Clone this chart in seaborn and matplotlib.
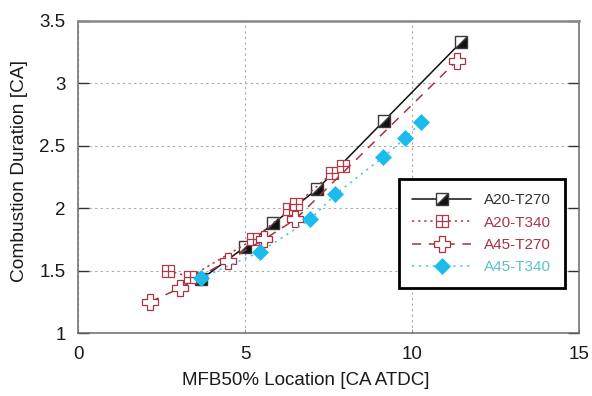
import numpy as np
import matplotlib
matplotlib.use("Agg")
import matplotlib.pyplot as plt
from matplotlib.path import Path
from matplotlib.markers import MarkerStyle
from matplotlib.transforms import Affine2D
import seaborn as sns

# MFB50% location [CA ATDC] and combustion duration [CA] for each case
a20_t270_x = [3.68, 5.00, 5.85, 7.15, 9.16, 11.47]
a20_t270_y = [1.43, 1.69, 1.88, 2.15, 2.70, 3.33]

a20_t340_x = [2.70, 3.35, 5.25, 6.33, 6.53, 7.60, 7.94]
a20_t340_y = [1.50, 1.45, 1.75, 1.99, 2.03, 2.28, 2.34]

a45_t270_x = [2.16, 3.05, 4.48, 5.57, 6.50, 11.34]
a45_t270_y = [1.25, 1.36, 1.58, 1.75, 1.91, 3.18]

a45_t340_x = [3.67, 5.45, 6.95, 7.70, 9.14, 9.79, 10.26]
a45_t340_y = [1.44, 1.65, 1.91, 2.11, 2.41, 2.56, 2.69]

labels = ["A20-T270", "A20-T340", "A45-T270", "A45-T340"]
x_ticks = [0, 5, 10, 15]
y_ticks = [1, 1.5, 2, 2.5, 3, 3.5]
y_tick_labels = ["1", "1.5", "2", "2.5", "3", "3.5"]

sns.set_theme(style="white")
plt.rcParams["font.family"] = ["Liberation Sans", "DejaVu Sans"]

fig = plt.figure(figsize=(5.92, 3.96), dpi=100)
ax = fig.add_axes([0.132, 0.159, 0.846, 0.788])

# square with an inner cross (grid-square marker)
grid_sq = Path(
    [(-1, -1), (1, -1), (1, 1), (-1, 1), (-1, -1),
     (0, -1), (0, 1), (-1, 0), (1, 0)],
    [Path.MOVETO, Path.LINETO, Path.LINETO, Path.LINETO, Path.CLOSEPOLY,
     Path.MOVETO, Path.LINETO, Path.MOVETO, Path.LINETO])
# square split along its diagonal: lower-right half filled
half_sq = MarkerStyle("D", fillstyle="right",
                      transform=Affine2D().rotate_deg(-45))

c_black = "#111111"
c_red1 = "#b23a48"
c_red2 = "#a83240"
c_cyan = "#1bbcec"
c_cyan_line = "#4cc4dc"

common = dict(estimator=None, sort=False, ax=ax)

sns.lineplot(x=a20_t270_x, y=a20_t270_y, color=c_black, linewidth=1.1,
             marker=half_sq, markersize=8.5, markerfacecolor=c_black,
             markerfacecoloralt="white", markeredgecolor="#3a3a3a",
             markeredgewidth=1.0, label=labels[0], **common)

sns.lineplot(x=a20_t340_x, y=a20_t340_y, color=c_red1, linewidth=1.1,
             linestyle=(0, (1.5, 2.5)), marker=grid_sq, markersize=9,
             markerfacecolor="white", markeredgecolor=c_red1,
             markeredgewidth=0.9, label=labels[1], **common)

sns.lineplot(x=a45_t270_x, y=a45_t270_y, color=c_red2, linewidth=1.1,
             linestyle=(0, (6, 5)), marker="P", markersize=11,
             markerfacecolor="white", markeredgecolor=c_red2,
             markeredgewidth=0.9, label=labels[2], **common)

sns.lineplot(x=a45_t340_x, y=a45_t340_y, color=c_cyan_line, linewidth=1.1,
             linestyle=(0, (1.5, 3)), marker="D", markersize=8.5,
             markerfacecolor=c_cyan, markeredgecolor=c_cyan,
             markeredgewidth=0.5, label=labels[3], **common)

ax.set_xlim(0, 15)
ax.set_ylim(1, 3.5)
ax.set_xticks(x_ticks)
ax.set_yticks(y_ticks)
ax.set_yticklabels(y_tick_labels)

ax.grid(True, color="#a8a8a8", linestyle=(0, (2, 3)), linewidth=0.8)
ax.set_axisbelow(True)

for side in ["left", "right", "top", "bottom"]:
    ax.spines[side].set_visible(True)
    ax.spines[side].set_color("#6a6a6a")
    ax.spines[side].set_linewidth(1.1)
ax.spines["top"].set_linewidth(1.8)
ax.spines["top"].set_color("#888888")

ax.tick_params(axis="y", which="both", direction="in", length=8, width=1.0,
               color="#333333", left=True, right=True, labelsize=13.5,
               labelcolor="#1a1a1a", pad=9)
ax.tick_params(axis="x", direction="in", length=3, width=0.8, color="#999999",
               bottom=True, labelsize=13.5, labelcolor="#1a1a1a", pad=9)

ax.set_xlabel("MFB50% Location [CA ATDC]", fontsize=13.5, color="#1a1a1a")
ax.set_ylabel("Combustion Duration [CA]", fontsize=13.8, color="#1a1a1a")
ax.xaxis.set_label_coords(0.455, -0.125)
ax.yaxis.set_label_coords(-0.10, 0.518)

leg = ax.legend(loc="lower right", bbox_to_anchor=(0.972, 0.144),
                handlelength=3.85, handletextpad=0.85, numpoints=1,
                fontsize=11, frameon=True, fancybox=False, borderpad=0.9,
                labelspacing=0.55, borderaxespad=0)
frame = leg.get_frame()
frame.set_edgecolor("#000000")
frame.set_linewidth(2.0)
frame.set_facecolor("white")
frame.set_alpha(1)
text_colors = ["#333333", "#a8384a", "#a83240", "#5cc0c8"]
for t, c in zip(leg.get_texts(), text_colors):
    t.set_color(c)

fig.savefig("out.png", dpi=100)
